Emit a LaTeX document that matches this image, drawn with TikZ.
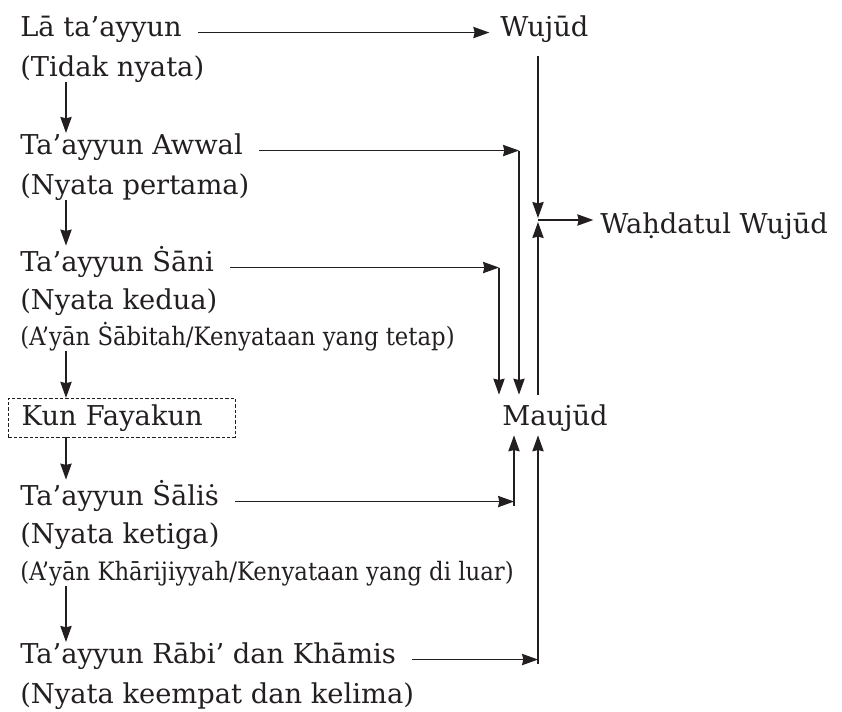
\documentclass[tikz,border=0pt]{standalone}
\usepackage{fontspec}
\setmainfont{DejaVu Serif}
\newfontfamily\condfont{DejaVu Serif Condensed}
\usepackage{xcolor}
\definecolor{ink}{HTML}{231F20}
\usetikzlibrary{positioning,arrows.meta,calc}

\begin{document}
\begin{tikzpicture}[
  x=0.75pt, y=-0.75pt,
  font=\fontsize{20.5}{24}\selectfont,
  term/.style={anchor=base west, inner sep=0pt, text=ink},
  subterm/.style={
    anchor=base west, inner sep=0pt, text=ink,
    font=\condfont\fontsize{19}{22}\selectfont,
  },
  kunbox/.style={
    anchor=base west, draw=ink, line width=0.6pt,
    dash pattern=on 2.5pt off 1.5pt,
    inner xsep=10pt, inner ysep=4.5pt, text width=150pt, align=left,
    text=ink,
  },
  arr/.style={-{Stealth[length=12pt, width=8.5pt, inset=1pt]},
    draw=ink, line width=0.9pt},
  gap/.style={shorten <=12pt},
]
\useasboundingbox (0,0) rectangle (842,711);

% Left column: levels of ta'ayyun
\node[term] (la)      at (20,36)  {Lā ta’ayyun};
\node[term] (tidak)   at (20,76)  {(Tidak nyata)};
\node[term] (awwal)   at (20,154) {Ta’ayyun Awwal};
\node[term] (pertama) at (20,194) {(Nyata pertama)};
\node[term] (sani)    at (20,271) {Ta’ayyun Ṡāni};
\node[term] (kedua)   at (20,309) {(Nyata kedua)};
\node[subterm] (sabitah) at (20,345) {(A’yān Ṡābitah/Kenyataan yang tetap)};
\node[kunbox] (kun)   at (8,425)  {Kun Fayakun};
\node[term] (salis)   at (20,505) {Ta’ayyun Ṡāliṡ};
\node[term] (ketiga)  at (20,543) {(Nyata ketiga)};
\node[subterm] (kharij) at (20,580) {(A’yān Khārijiyyah/Kenyataan yang di luar)};
\node[term] (rabi)    at (20,663) {Ta’ayyun Rābi’ dan Khāmis};
\node[term] (keempat) at (20,703) {(Nyata keempat dan kelima)};

% Right column
\node[term] (wujud)    at (500,36)  {Wujūd};
\node[term] (wahdatul) at (600,233) {Waḥdatul Wujūd};
\node[term] (maujud)   at (502,425) {Maujūd};

% columns of the vertical connectors
\coordinate (colL) at (66,0);
\coordinate (colS) at (499,0);
\coordinate (colT) at (514,0);
\coordinate (colA) at (519,0);
\coordinate (meet) at (538,220);

% descent on the left
\draw[arr] (tidak.south -| colL)   -- (awwal.north -| colL);
\draw[arr] (pertama.south -| colL) -- (sani.north -| colL);
\draw[arr] (sabitah.south -| colL) -- (kun.north -| colL);
\draw[arr] (kun.south -| colL)     -- (salis.north -| colL);
\draw[arr] (kharij.south -| colL)  -- (rabi.north -| colL);

% Wujud and Maujud meet in Wahdatul Wujud
\draw[arr, gap, shorten >=8pt] (la.mid east) -- (la.mid -| wujud.west);
\draw[arr, shorten <=10pt, shorten >=1.5pt] (wujud.south -| meet) -- (meet);
\draw[arr, shorten <=7pt, shorten >=1.5pt] (maujud.north -| meet) -- (meet);
\draw[arr, shorten >=5pt] (meet) -- (meet -| wahdatul.west);

% upper levels down into Maujud
\draw[arr, gap] (awwal.mid east) -- (awwal.mid -| colA);
\draw[arr, shorten >=7pt] (awwal.mid -| colA) -- (maujud.north -| colA);
\draw[arr, gap] (sani.mid east) -- (sani.mid -| colS);
\draw[arr, shorten >=7pt] (sani.mid -| colS) -- (maujud.north -| colS);

% lower levels up into Maujud
\draw[arr, gap] (salis.mid east) -- (salis.mid -| colT);
\draw[arr, shorten >=3pt] ([yshift=-3pt]salis.mid -| colT) -- (maujud.south -| colT);
\draw[arr, gap] (rabi.mid east) -- (rabi.mid -| meet);
\draw[arr, shorten >=3pt] ([yshift=-3pt]rabi.mid -| meet) -- (maujud.south -| meet);

\end{tikzpicture}
\end{document}
